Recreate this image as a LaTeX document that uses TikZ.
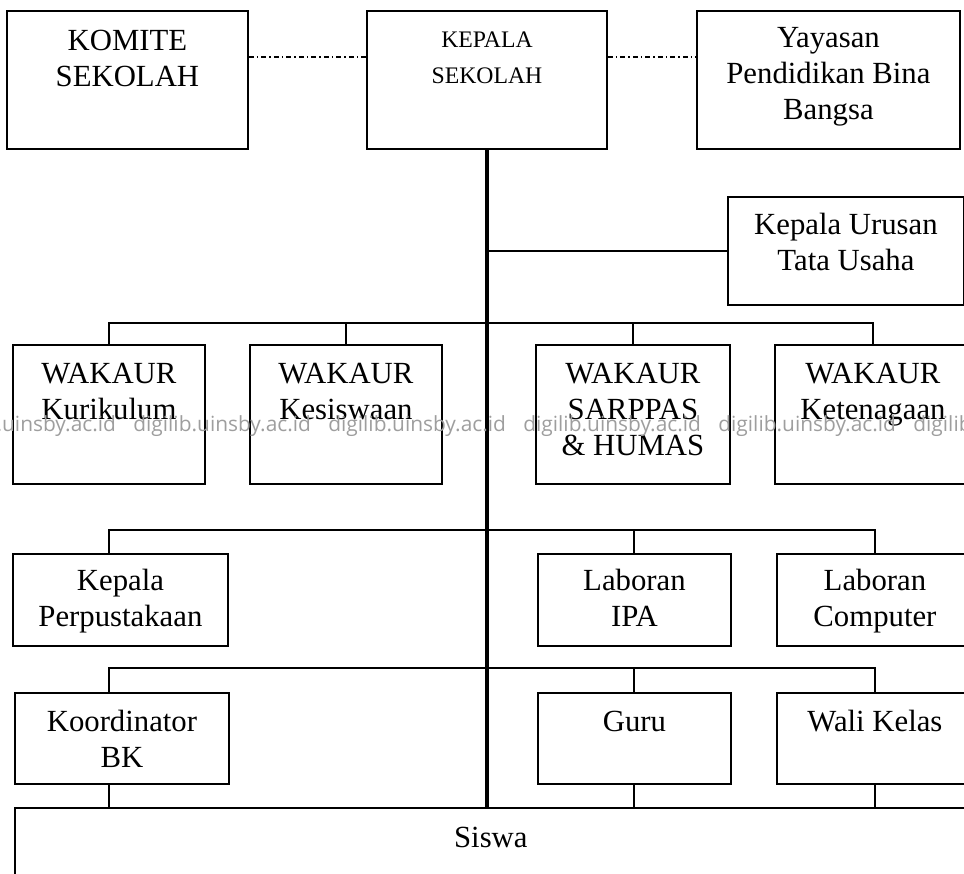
\documentclass[tikz,border=0pt]{standalone}
\usepackage{fontspec}
\setmainfont{Liberation Serif}
\newfontfamily\markfont{Open Sans}
\usetikzlibrary{calc}
\tikzstyle{orgbox} = [rectangle, draw=black, line width=1.1pt, inner sep=0pt, align=flush center, anchor=north west, font=\fontsize{17.5}{20.5}\selectfont]
\tikzstyle{orgline} = [line width=1.1pt]
\tikzstyle{spine} = [line width=1.9pt]
\tikzstyle{dashlink} = [line width=0.8pt, dash pattern=on 0.1cm off 0.06cm on 0.03cm off 0.06cm]
\tikzstyle{watermark} = [anchor=base west, inner sep=0pt, text=black!38, font=\markfont\fontsize{11.9}{14}\selectfont]

\begin{document}
\begin{tikzpicture}[x=0.02cm, y=-0.02cm]
\useasboundingbox (0,0) rectangle (964,874);
\clip (0,0) rectangle (964,874);

% Nodes
\node (komite) [orgbox, text width=4.82cm, text height=0.8cm, text depth=1.96cm] at (6,10) {KOMITE\\SEKOLAH};
\node (kepsek) [orgbox, text width=4.8cm, text height=0.74cm, text depth=2.02cm, font=\fontsize{13.5}{20}\selectfont] at (366,10) {KEPALA\\SEKOLAH};
\node (yayasan) [orgbox, text width=5.26cm, text height=0.74cm, text depth=2.02cm] at (696,10) {Yayasan\\Pendidikan Bina\\Bangsa};
\node (kaur) [orgbox, text width=4.72cm, text height=0.76cm, text depth=1.4cm] at (727,196) {Kepala Urusan\\Tata Usaha};

\node (wk1) [orgbox, text width=3.84cm, text height=0.78cm, text depth=2cm] at (12,344) {WAKAUR\\Kurikulum};
\node (wk2) [orgbox, text width=3.84cm, text height=0.78cm, text depth=2cm] at (249,344) {WAKAUR\\Kesiswaan};
\node (wk3) [orgbox, text width=3.88cm, text height=0.78cm, text depth=2cm] at (535,344) {WAKAUR\\SARPPAS\\\& HUMAS};
\node (wk4) [orgbox, text width=3.92cm, text height=0.78cm, text depth=2cm] at (774,344) {WAKAUR\\Ketenagaan};

\node (perpus) [orgbox, text width=4.3cm, text height=0.74cm, text depth=1.1cm] at (12,553) {Kepala\\Perpustakaan};
\node (labipa) [orgbox, text width=3.86cm, text height=0.74cm, text depth=1.1cm] at (537,553) {Laboran\\IPA};
\node (labkom) [orgbox, text width=3.92cm, text height=0.74cm, text depth=1.1cm] at (776,553) {Laboran\\Computer};

\node (koord) [orgbox, text width=4.28cm, text height=0.78cm, text depth=1.04cm] at (14,692) {Koordinator\\BK};
\node (guru) [orgbox, text width=3.86cm, text height=0.78cm, text depth=1.04cm] at (537,692) {Guru};
\node (wali) [orgbox, text width=3.92cm, text height=0.78cm, text depth=1.04cm] at (776,692) {Wali Kelas};

\node (siswa) [orgbox, text width=19.04cm, text height=0.8cm, text depth=1.06cm] at (14,807) {Siswa};

% Dotted links
\draw [dashlink] ($(komite.north east)+(0,47)$) -- ($(kepsek.north west)+(0,47)$);
\draw [dashlink] ($(kepsek.north east)+(0,47)$) -- ($(yayasan.north west)+(0,47)$);

% Lines
\draw [spine] (kepsek.south) -- (kepsek.south |- siswa.north);
\draw [orgline] (kepsek.south |- kaur.west) -- (kaur.west);

\draw [orgline] (wk1.north) -- ++(0,-21) -| (wk4.north);
\draw [orgline] (wk2.north) -- ++(0,-21);
\draw [orgline] (wk3.north) -- ++(0,-21);

\draw [orgline] (wk1.north |- perpus.north) -- ++(0,-23) -| (labkom.north);
\draw [orgline] (labipa.north) -- ++(0,-23);

\draw [orgline] (wk1.north |- koord.north) -- ++(0,-24) -| (wali.north);
\draw [orgline] (guru.north) -- ++(0,-24);

\draw [orgline] (wk1.north |- koord.south) -- (wk1.north |- siswa.north);
\draw [orgline] (guru.south) -- (guru.south |- siswa.north);
\draw [orgline] (wali.south) -- (wali.south |- siswa.north);

% Watermark
\foreach \wx in {-62,133,328,523,718,913}
  \node [watermark] at (\wx,432) {digilib.uinsby.ac.id};

\end{tikzpicture}
\end{document}
